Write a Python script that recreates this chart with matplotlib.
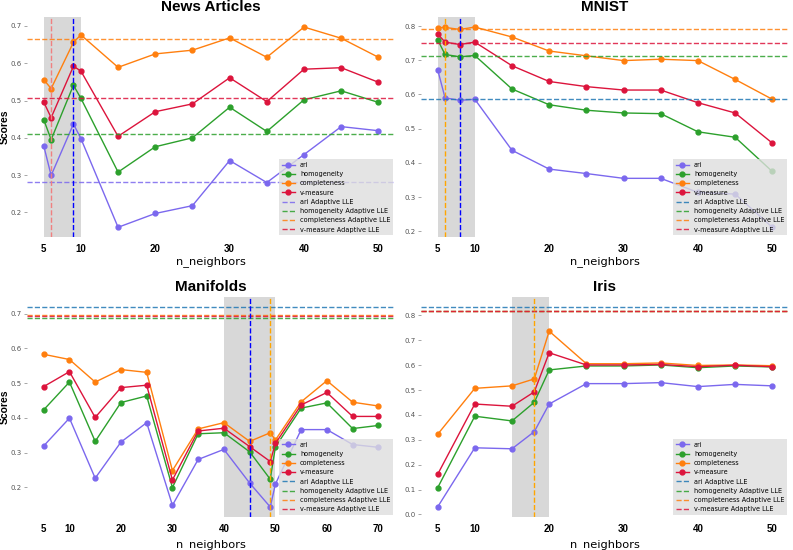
import matplotlib
matplotlib.use("Agg")
import matplotlib.pyplot as plt

metrics = ["ari", "homogeneity", "completeness", "v-measure"]
colors = ["mediumslateblue", "#2ca02c", "#ff7f0e", "crimson"]

# News Articles
news_k = [5, 6, 9, 10, 15, 20, 25, 30, 35, 40, 45, 50]
news_ari = [0.379, 0.299, 0.437, 0.398, 0.160, 0.197, 0.218, 0.339, 0.280, 0.355, 0.430, 0.419]
news_hom = [0.449, 0.395, 0.541, 0.506, 0.308, 0.376, 0.400, 0.482, 0.417, 0.502, 0.526, 0.495]
news_com = [0.556, 0.532, 0.656, 0.676, 0.589, 0.625, 0.635, 0.668, 0.616, 0.697, 0.667, 0.616]
news_vm = [0.496, 0.454, 0.592, 0.579, 0.404, 0.470, 0.491, 0.561, 0.497, 0.584, 0.588, 0.549]
news_adaptive = [0.281, 0.411, 0.665, 0.508]

# MNIST
mnist_k = [5, 6, 8, 10, 15, 20, 25, 30, 35, 40, 45, 50]
mnist_ari = [0.673, 0.590, 0.583, 0.586, 0.437, 0.382, 0.369, 0.355, 0.355, 0.314, 0.309, 0.212]
mnist_hom = [0.760, 0.717, 0.710, 0.714, 0.616, 0.570, 0.554, 0.546, 0.544, 0.491, 0.475, 0.375]
mnist_com = [0.795, 0.796, 0.790, 0.797, 0.768, 0.727, 0.713, 0.699, 0.703, 0.699, 0.644, 0.586]
mnist_vm = [0.777, 0.753, 0.746, 0.753, 0.684, 0.638, 0.623, 0.613, 0.613, 0.576, 0.546, 0.458]
mnist_adaptive = [0.586, 0.713, 0.790, 0.749]

# Manifolds
man_k = [5, 10, 15, 20, 25, 30, 35, 40, 45, 49, 50, 55, 60, 65, 70]
man_ari = [0.319, 0.399, 0.226, 0.330, 0.386, 0.148, 0.280, 0.309, 0.212, 0.143, 0.209, 0.366, 0.366, 0.323, 0.315]
man_hom = [0.423, 0.503, 0.332, 0.444, 0.463, 0.199, 0.354, 0.357, 0.302, 0.223, 0.316, 0.428, 0.443, 0.369, 0.378]
man_com = [0.583, 0.568, 0.503, 0.539, 0.531, 0.248, 0.368, 0.386, 0.332, 0.357, 0.336, 0.446, 0.507, 0.445, 0.434]
man_vm = [0.490, 0.533, 0.401, 0.487, 0.494, 0.221, 0.362, 0.370, 0.317, 0.274, 0.326, 0.437, 0.473, 0.404, 0.404]
man_adaptive = [0.720, 0.689, 0.695, 0.692]

# Iris
iris_k = [5, 10, 15, 18, 20, 25, 30, 35, 40, 45, 50]
iris_ari = [0.030, 0.268, 0.264, 0.333, 0.444, 0.526, 0.526, 0.530, 0.514, 0.523, 0.517]
iris_hom = [0.107, 0.395, 0.376, 0.451, 0.581, 0.597, 0.597, 0.601, 0.590, 0.597, 0.593]
iris_com = [0.322, 0.507, 0.517, 0.545, 0.737, 0.606, 0.606, 0.609, 0.599, 0.601, 0.598]
iris_vm = [0.161, 0.444, 0.435, 0.493, 0.650, 0.601, 0.601, 0.603, 0.594, 0.600, 0.594]
iris_adaptive = [0.835, 0.817, 0.819, 0.818]

panels = [
    ("News Articles", news_k, [news_ari, news_hom, news_com, news_vm], news_adaptive,
     (5, 10), [(6, "#f08080"), (9, "blue")], [5, 10, 20, 30, 40, 50], "mediumslateblue", True),
    ("MNIST", mnist_k, [mnist_ari, mnist_hom, mnist_com, mnist_vm], mnist_adaptive,
     (5, 10), [(6, "orange"), (8, "blue")], [5, 10, 20, 30, 40, 50], "#1f77b4", False),
    ("Manifolds", man_k, [man_ari, man_hom, man_com, man_vm], man_adaptive,
     (40, 50), [(45, "blue"), (49, "orange")], [5, 10, 20, 30, 40, 50, 60, 70], "#1f77b4", True),
    ("Iris", iris_k, [iris_ari, iris_hom, iris_com, iris_vm], iris_adaptive,
     (15, 20), [(18, "orange")], [5, 10, 20, 30, 40, 50], "#1f77b4", False),
]

fig, axes = plt.subplots(2, 2, figsize=(7.93, 5.5), dpi=100)
plt.subplots_adjust(left=0.034, right=0.995, bottom=0.06, top=0.969, wspace=0.07, hspace=0.27)

for i, (ax, (title, k, series, adaptive, span, vlines, xticks, ari_line, show_ylabel)) in enumerate(zip(axes.flat, panels)):
    for name, vals, c in zip(metrics, series, colors):
        ax.plot(k, vals, marker="o", markersize=3.5, linewidth=1.0, color=c, label=name)

    line_colors = [ari_line] + colors[1:]
    for name, val, c in zip(metrics, adaptive, line_colors):
        ax.axhline(val, linestyle="--", linewidth=1.0, color=c, alpha=0.85,
                   label=f"{name} Adaptive LLE")

    ax.axvspan(span[0], span[1], color="gray", alpha=0.3, linewidth=0)
    for xv, c in vlines:
        ax.axvline(xv, linestyle="--", linewidth=1.0, color=c)

    ax.set_title(title, fontsize=11, fontweight="bold", family="Liberation Sans", pad=4)
    ax.set_xticks(xticks)
    ax.set_xticklabels([str(t) for t in xticks], fontsize=7, fontweight="bold", family="Liberation Sans")
    ax.tick_params(axis="x", length=0, pad=5)
    ax.tick_params(axis="y", length=2, width=0.6, color="#999999", labelsize=5, labelcolor="#555555", pad=2)
    ax.set_xlabel("n_neighbors", fontsize=8.2, labelpad=4 if i >= 2 else 1)
    if show_ylabel:
        ax.set_ylabel("Scores", fontsize=7.5, fontweight="bold", family="Liberation Sans")
        ax.yaxis.set_label_coords(-0.046, 0.5)
    for s in ax.spines.values():
        s.set_visible(False)

    ax.legend(loc="lower right", fontsize=4.7, facecolor="#dedede", edgecolor="none",
              framealpha=0.8, borderaxespad=0.3, fancybox=False)

plt.savefig("out.png", dpi=100)
